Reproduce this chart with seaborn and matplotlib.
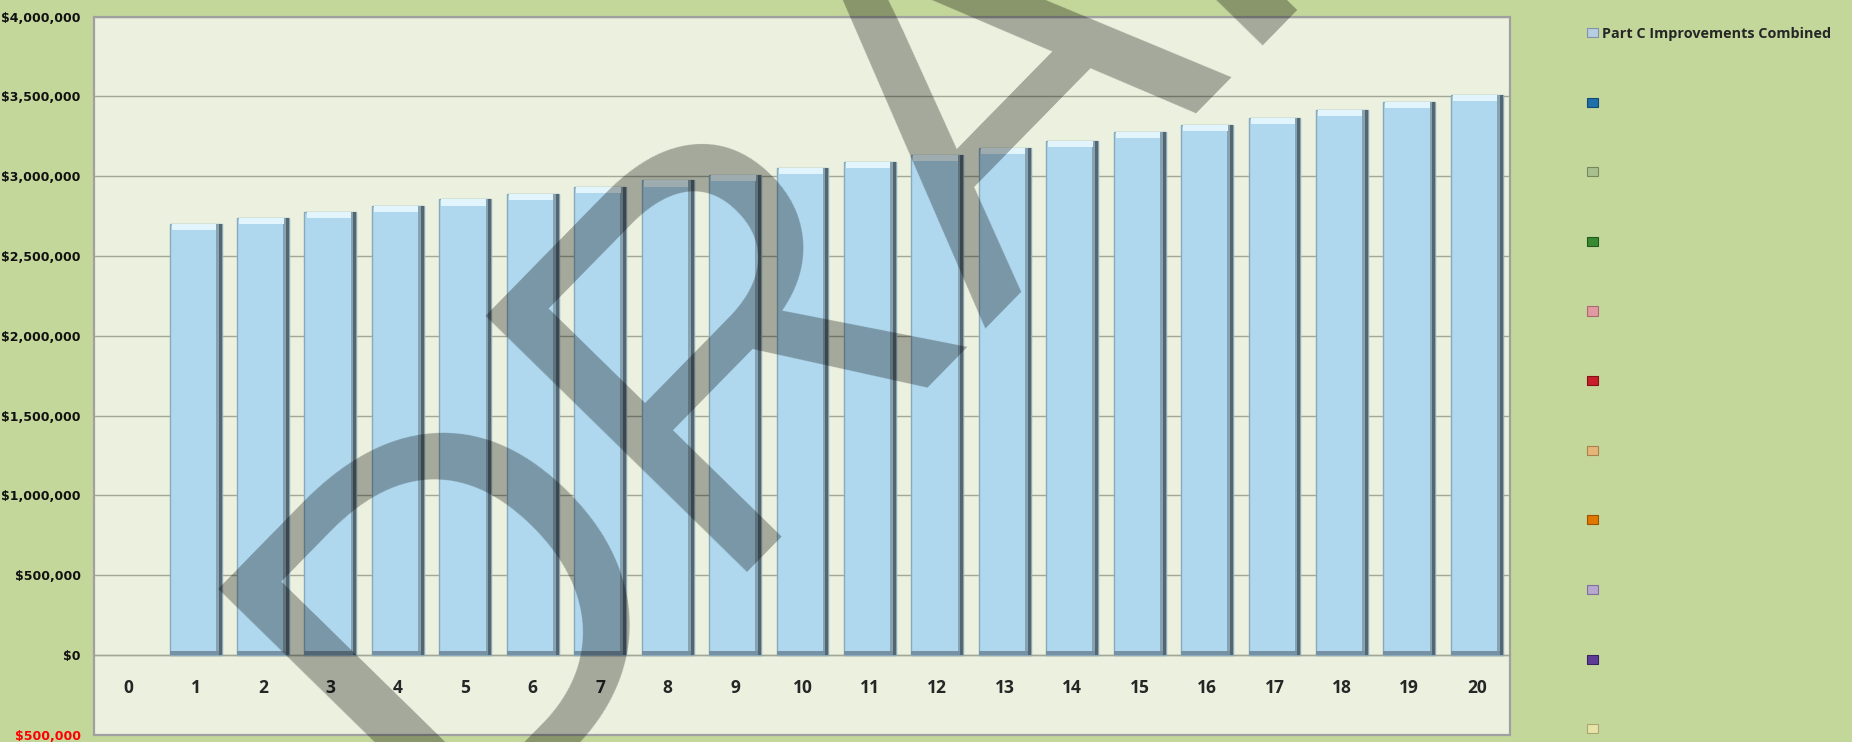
import matplotlib
matplotlib.use("Agg")
import matplotlib.pyplot as plt
from matplotlib.patches import Patch, Rectangle
from matplotlib.ticker import FuncFormatter, MultipleLocator
import seaborn as sns
import pandas as pd

# --------------------------------------------------------------------------------------------------------------------------------------------
# Chart data
years = [str(i) for i in range(21)]          # categories 0..20, year 0 has no bar
bar_years = years[1:]
combined = [2698000, 2737000, 2774000, 2812000, 2854000, 2890000, 2931000, 2973000, 3010000, 3050000,
            3090000, 3131000, 3176000, 3220000, 3275000, 3321000, 3365000, 3415000, 3462000, 3510000]

# the legend also lists ten empty series
series_names = ["Part C Improvements Combined"] + [""] * 10
series_colors = ["#b7cde2", "#1f6fa8", "#a9c08e", "#3a8a34", "#e29aa2", "#c8202a",
                 "#e6b678", "#e07800", "#b8a8d0", "#5e3c96", "#e8e4a8"]
series_edges = ["#7f93a8", "#124a72", "#748a5e", "#1f5a1c", "#a86a70", "#861018",
                "#a8824c", "#9a5200", "#8070a0", "#3a2260", "#aaa674"]

# --------------------------------------------------------------------------------------------------------------------------------------------
sns.set_theme(style="white")
plt.rcParams['font.family'] = ['DejaVu Sans']

fig = plt.figure(figsize=(18.52, 7.42), dpi=100, facecolor="#c4d79b")
ax = fig.add_axes([0.051, 0.0098, 0.7646, 0.9679])
ax.set_facecolor("#ebf1de")

df = pd.DataFrame({"year": bar_years, "value": combined})
sns.barplot(data=df, x="year", y="value", order=years, width=0.77, color="#afd8ee", saturation=1,
            edgecolor="#8aa9bb", linewidth=1.0, ax=ax, zorder=3)

# bevel look on each bar: light top, dark right side and bottom
for p in list(ax.patches):
    x0, w, h = p.get_x(), p.get_width(), p.get_height()
    ax.add_patch(Rectangle((x0 + w - 0.045, 0), 0.045, h, color="#56666f", lw=0, zorder=4))
    ax.add_patch(Rectangle((x0 + w - 0.085, 0), 0.04, h, color="#86a3b4", lw=0, zorder=4))
    ax.add_patch(Rectangle((x0 + 0.03, h - 38000), w - 0.11, 38000, color="#e2f5fc", lw=0, zorder=4))
    ax.add_patch(Rectangle((x0, 0), w - 0.045, 24000, color="#7591a3", lw=0, zorder=4))

ax.set_ylim(-500000, 4000000)
ax.set_xlim(-0.5, len(years) - 0.5)
ax.yaxis.set_major_locator(MultipleLocator(500000))
ax.yaxis.set_major_formatter(FuncFormatter(lambda v, _: f"${abs(v):,.0f}"))
ax.grid(axis="y", color="#a3a796", lw=1.0, zorder=1)
ax.set_axisbelow(True)
ax.set_xlabel("")
ax.set_ylabel("")

# x labels sit on the zero line, frame drawn round the plot area
for side in ["left", "right", "top"]:
    ax.spines[side].set_visible(False)
ax.spines["bottom"].set_position(("data", 0))
ax.spines["bottom"].set_color("#a3a796")
ax.spines["bottom"].set_linewidth(1.0)
ax.add_patch(Rectangle((0, 0), 1, 1, transform=ax.transAxes, fill=False, ec="#a0a0a0", lw=1.6,
                       clip_on=False, zorder=5))

ax.tick_params(axis="x", length=0, pad=17)
ax.tick_params(axis="y", length=0, pad=10)
for lab in ax.get_xticklabels():
    lab.set_fontfamily("Open Sans")
    lab.set_fontweight("bold")
    lab.set_fontsize(12.5)
for lab in ax.get_yticklabels():
    lab.set_fontweight("bold")
    lab.set_fontsize(9)

# --------------------------------------------------------------------------------------------------------------------------------------------
# Legend on the right
handles = [Patch(facecolor=c, edgecolor=e, lw=0.8) for c, e in zip(series_colors, series_edges)]
fig.legend(handles, series_names, loc="upper left", bbox_to_anchor=(0.857, 0.964), frameon=False,
           prop={"family": "Open Sans", "weight": "bold", "size": 10.4}, labelspacing=3.85,
           handlelength=0.75, handleheight=0.6, handletextpad=0.3, borderpad=0, borderaxespad=0)

# DRAFT watermark
fig.text(0.2356, -0.1388, "DRAFT", fontsize=382, family="Liberation Sans", weight="normal",
         color="black", alpha=0.3, rotation=45.6, rotation_mode="anchor", ha="left", va="baseline",
         zorder=10)

fig.canvas.draw()
for lab in ax.get_yticklabels():
    if lab.get_position()[1] < 0:
        lab.set_color("red")
    else:
        lab.set_color("#111111")

fig.savefig("out.png", dpi=100, facecolor=fig.get_facecolor())
